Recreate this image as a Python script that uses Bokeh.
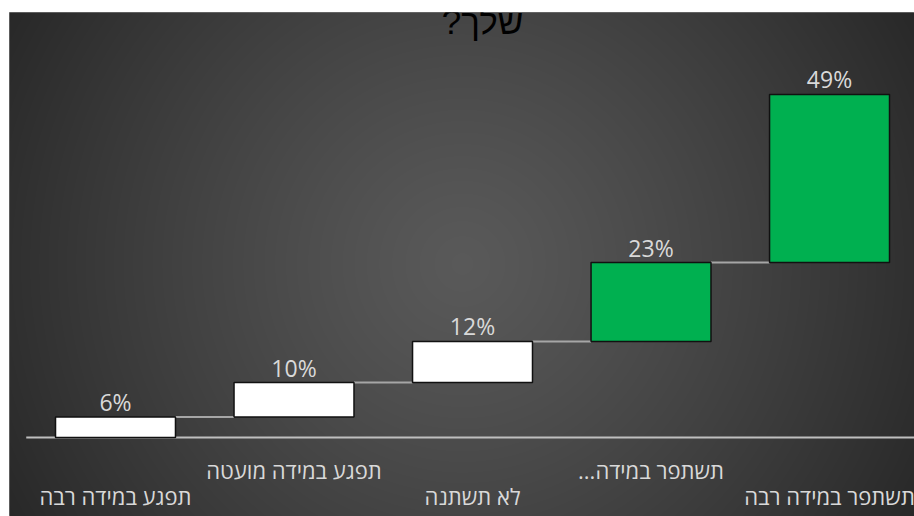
import numpy as np
from bokeh.plotting import figure
from bokeh.models import Range1d, Label
from bokeh.embed import file_html
from bokeh.resources import INLINE
from bokeh.core.properties import value

# ---- data ----
title_text = "שלך?\u200f"
categories = ["תפגע במידה רבה", "תפגע במידה מועטה", "לא תשתנה", "תשתפר במידה...\u200f", "תשתפר במידה רבה"]
values = [6, 10, 12, 23, 49]
value_labels = ["6%", "10%", "12%", "23%", "49%"]

# ---- styles ----
bar_colors = ["#ffffff", "#ffffff", "#ffffff", "#00b050", "#00b050"]
text_col = "#d9d9d9"

n = len(values)
xs = list(range(n))
tops = list(np.cumsum(values))
bottoms = [t - v for t, v in zip(tops, values)]

x0, x1 = -0.5938, 4.476
y0, y1 = -23.03, 123.9
px_per_unit = 3.43

p = figure(width=914, height=516, output_backend="svg", toolbar_location=None,
           x_range=Range1d(x0, x1), y_range=Range1d(y0, y1),
           x_axis_location=None, y_axis_location=None,
           min_border_left=9, min_border_right=0, min_border_top=12, min_border_bottom=0,
           border_fill_color="white", outline_line_color="#707070",
           background_fill_color="#3c3c3c")
p.grid.visible = False

# radial gradient background
fw, fh = 905, 504
yy, xx = np.mgrid[0:fh, 0:fw]
cx, cy = fw / 2.0, fh / 2.0
R = np.hypot(cx, cy)
t = np.clip(np.hypot(xx - cx, yy - cy) / R, 0, 1)
g = np.round(89 - (89 - 40) * t ** 1.2).astype(np.uint32)
img = (np.uint32(255) << 24) | (g << 16) | (g << 8) | g
p.image_rgba(image=[img.astype(np.uint32)], x=x0, y=y0, dw=x1 - x0, dh=y1 - y0)

# baseline
p.segment(x0=[-0.5], y0=[0], x1=[n - 0.5], y1=[0], line_color="#bfbfbf", line_width=2)

half = 0.336
# connectors
p.segment(x0=[i + half for i in xs[:-1]], y0=tops[:-1],
          x1=[i + 1 - half for i in xs[:-1]], y1=tops[:-1],
          line_color="#a6a6a6", line_width=2)

# bars
p.quad(left=[i - half for i in xs], right=[i + half for i in xs],
       bottom=bottoms, top=tops, fill_color=bar_colors,
       line_color="#111111", line_width=1.5)

# value labels
p.text(x=xs, y=[tp + 15 / px_per_unit for tp in tops], text=value_labels,
       text_align="center", text_baseline="alphabetic",
       text_color=text_col, text_font=value("Open Sans"),
       text_font_size="23px")

# category labels (staggered)
row_y = [-17.06 if i % 2 == 0 else -9.33 for i in xs]
p.text(x=xs, y=row_y, text=categories, text_align="center", text_baseline="middle",
       text_color=text_col, text_font=value("Open Sans"), text_font_size="22px")

# title
p.add_layout(Label(x=2.056, y=121.2, text=title_text, text_align="center",
                   text_baseline="alphabetic", text_color="black",
                   text_font="Liberation Sans", text_font_size="35px"))

open("out.html", "w").write(file_html(p, INLINE))
